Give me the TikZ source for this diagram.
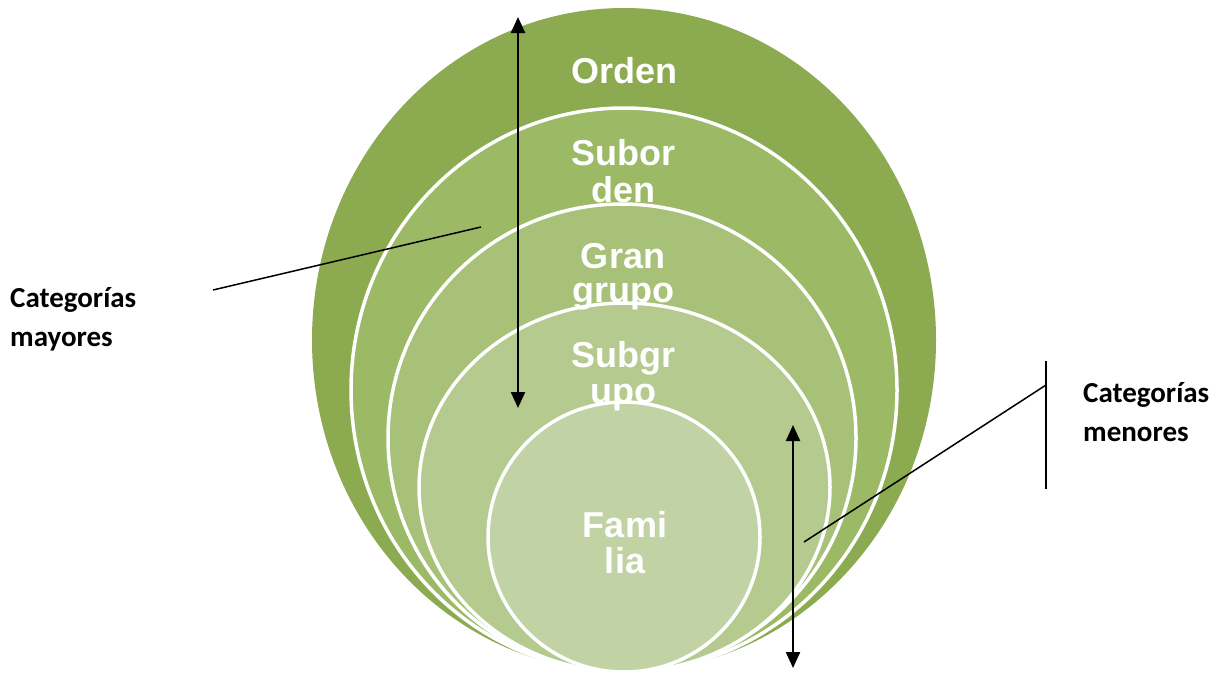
\documentclass[tikz,border=0pt]{standalone}
\usepackage{fontspec}
\setmainfont{Liberation Sans}
\newfontfamily\calfont{Carlito}
\usetikzlibrary{arrows.meta,shapes.geometric}
\definecolor{cOrden}{RGB}{140,170,80}
\definecolor{cSub}{RGB}{156,185,102}
\definecolor{cGran}{RGB}{167,193,120}
\definecolor{cSubg}{RGB}{180,202,142}
\definecolor{cFam}{RGB}{193,211,165}
\begin{document}
\begin{tikzpicture}[x=1pt,y=-1pt,
  ring/.style={ellipse, draw=white, line width=3.5pt, inner sep=0pt},
  lbl/.style={text=white, font=\fontsize{36}{#1}\selectfont\bfseries, align=center, inner sep=0pt, anchor=base},
  lbl/.default=37,
  side/.style={font=\calfont\bfseries\fontsize{29}{39}\selectfont, align=left, inner sep=0pt, anchor=base west},
  dbl/.style={{Triangle[width=14pt,length=16pt]}-{Triangle[width=14pt,length=16pt]}, line width=2.2pt},
  lead/.style={line width=1.5pt}]
\useasboundingbox (0,0) rectangle (1225,675);
\node[ellipse, fill=cOrden, inner sep=0pt, minimum width=624pt, minimum height=664pt] (orden) at (624,340) {};
\node[ring, fill=cSub, minimum width=546pt, minimum height=564pt] (suborden) at (624,390) {};
\node[ring, fill=cGran, minimum width=468pt, minimum height=468pt] (gran) at (622,438) {};
\node[ring, fill=cSubg, minimum width=411pt, minimum height=369pt] (subgrupo) at (624.5,487.5) {};
\node[ring, fill=cFam, minimum width=272pt, minimum height=270pt] (familia) at (624,537) {};
\node[lbl] (tOrden) at (624,83) {Orden};
\node[lbl=37] (tSub) at (623,202) {Subor\\den};
\node[lbl=34] (tGran) at (623,302) {Gran\\grupo};
\node[lbl=36] (tSubg) at (623,403) {Subgr\\upo};
\node[lbl=36] (tFam) at (625,573) {Fami\\lia};
\node[side] (mayores) at (10,346) {Categorías\\mayores};
\node[side] (menores) at (1083,441) {Categorías\\menores};
\coordinate (a1t) at (518,17);
\coordinate (a1b) at (518,408);
\coordinate (a2t) at (793,425);
\coordinate (a2b) at (793,668);
\draw[dbl] (a1t) -- (a1b);
\draw[dbl] (a2t) -- (a2b);
\coordinate (l1s) at (213,290);
\coordinate (l1e) at (481,227);
\draw[lead] (l1s) -- (l1e);
\coordinate (l2s) at (804,542);
\coordinate (l2e) at (1046,385);
\coordinate (bt) at (1046,361);
\coordinate (bb) at (1046,489);
\draw[lead] (l2s) -- (l2e);
\draw[lead] (bt) -- (bb);
\end{tikzpicture}
\end{document}
